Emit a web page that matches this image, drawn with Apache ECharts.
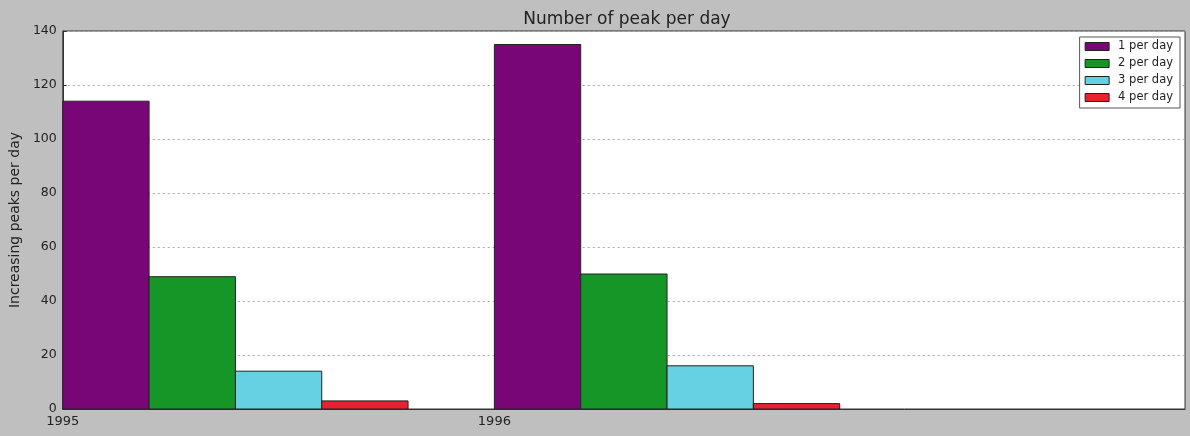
<!DOCTYPE html>
<html>
<head>
<meta charset="utf-8">
<script src="https://cdn.jsdelivr.net/npm/echarts@6/dist/echarts.min.js"></script>
<style>
html,body{margin:0;padding:0;background:#bfbfbf;}
#chart{width:1190px;height:436px;}
</style>
</head>
<body>
<div id="chart"></div>
<script>
const years = [1995, 1996];
const seriesNames = ['1 per day', '2 per day', '3 per day', '4 per day'];
const onePerDay = [114, 135];
const twoPerDay = [49, 50];
const threePerDay = [14, 16];
const fourPerDay = [3, 2];
const yTicks = [0, 20, 40, 60, 80, 100, 120, 140];
const xTickLabels = ['1995', '1996'];

const allValues = [onePerDay, twoPerDay, threePerDay, fourPerDay];
const colors = ['#780677', '#159627', '#67d1e4', '#e8202f'];
const barW = 0.2;

const chart = echarts.init(document.getElementById('chart'));

const series = allValues.map((vals, i) => ({
  name: seriesNames[i],
  type: 'custom',
  itemStyle: { color: colors[i], borderColor: '#222', borderWidth: 1 },
  data: years.map((y, k) => [y, vals[k]]),
  encode: { x: 0, y: 1 },
  renderItem: function (params, api) {
    const x = api.value(0), v = api.value(1);
    const p0 = api.coord([x + i * barW, v]);
    const p1 = api.coord([x + (i + 1) * barW, 0]);
    return {
      type: 'rect',
      shape: { x: p0[0], y: p0[1], width: p1[0] - p0[0], height: p1[1] - p0[1] },
      style: { fill: colors[i], stroke: '#222', lineWidth: 1 }
    };
  }
}));

chart.setOption({
  backgroundColor: '#bfbfbf',
  animation: false,
  textStyle: { fontFamily: 'DejaVu Sans' },
  title: {
    text: 'Number of peak per day',
    left: 622, textAlign: 'center', top: 6,
    textStyle: { fontSize: 17, fontWeight: 'normal', color: '#222', fontFamily: 'DejaVu Sans' }
  },
  legend: {
    data: seriesNames.map((n, i) => ({ name: n, icon: 'rect', itemStyle: { color: colors[i], borderColor: '#222', borderWidth: 1 } })),
    orient: 'vertical',
    right: 10, top: 37,
    itemWidth: 24, itemHeight: 8, itemGap: 4,
    padding: [3, 7, 4, 5],
    backgroundColor: '#fff',
    borderColor: '#555', borderWidth: 1,
    textStyle: { fontSize: 11.5, lineHeight: 13, color: '#222', fontFamily: 'DejaVu Sans', padding: [0, 0, 0, 4] }
  },
  grid: {
    left: 61, right: 5, top: 31, bottom: 27,
    show: true, backgroundColor: '#fff', borderColor: '#333', borderWidth: 1
  },
  xAxis: {
    type: 'value', min: 1995, max: 1997.6, interval: 1,
    axisLine: { show: true, lineStyle: { color: '#333' } },
    axisTick: { show: false },
    splitLine: { show: false },
    axisLabel: {
      color: '#222', fontSize: 13, margin: 6,
      formatter: v => { const s = String(Math.round(v)); return xTickLabels.includes(s) ? s : ''; },
      showMaxLabel: false
    }
  },
  yAxis: {
    type: 'value', min: yTicks[0], max: yTicks[yTicks.length - 1], interval: 20,
    name: 'Increasing peaks per day', nameLocation: 'middle', nameGap: 37, nameRotate: 90,
    nameTextStyle: { fontSize: 14, color: '#222', fontFamily: 'DejaVu Sans' },
    axisLine: { show: true, lineStyle: { color: '#333' } },
    axisTick: { show: true, inside: true, length: 4, lineStyle: { color: '#333' } },
    splitLine: { show: true, lineStyle: { color: '#aaa', type: [2, 3], width: 1 } },
    axisLabel: { color: '#222', fontSize: 12.5, margin: 6 }
  },
  series: series
});
</script>
</body>
</html>
